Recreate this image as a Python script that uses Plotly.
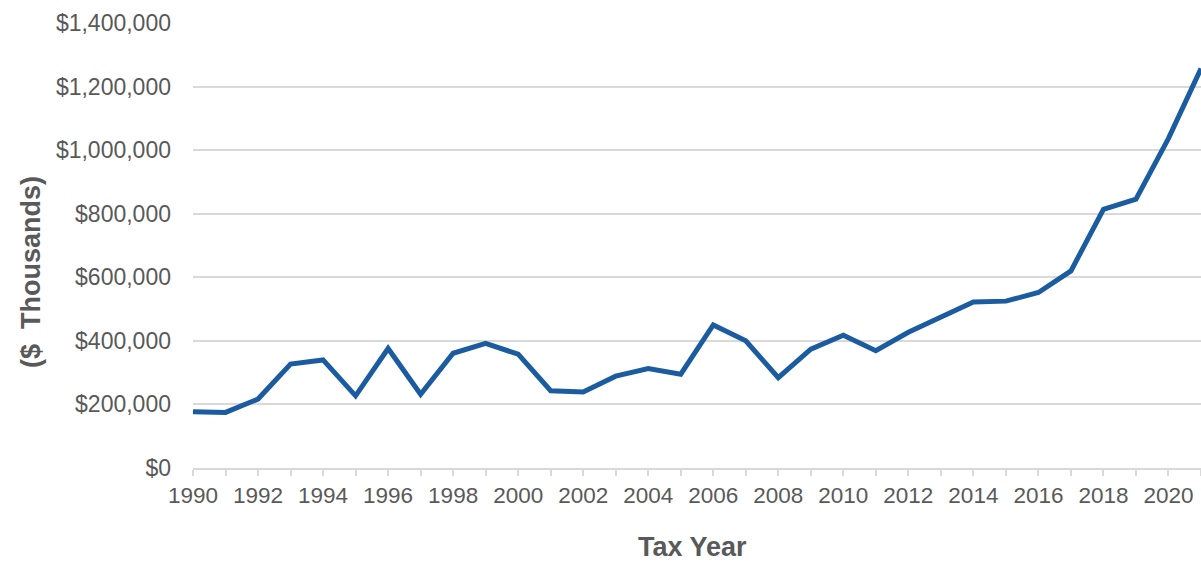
import plotly.graph_objects as go

years = list(range(1990, 2022))
values = [177000, 175000, 217000, 327000, 340000, 227000, 376000, 232000,
          361000, 392000, 358000, 243000, 239000, 289000, 313000, 295000,
          450000, 400000, 284000, 374000, 418000, 369000, 427000, 473000,
          522000, 525000, 552000, 620000, 814000, 846000, 1037000, 1257000]
y_ticks = [0, 200000, 400000, 600000, 800000, 1000000, 1200000, 1400000]
y_tick_labels = ["$0", "$200,000", "$400,000", "$600,000", "$800,000",
                 "$1,000,000", "$1,200,000", "$1,400,000"]
x_ticks = list(range(1990, 2022, 2))

FONT = "Liberation Sans, Arial, sans-serif"
GREY = "#595959"

fig = go.Figure()
fig.add_trace(go.Scatter(
    x=years, y=values, mode="lines",
    line=dict(color="#1B5CA0", width=5),
    hoverinfo="x+y", showlegend=False, cliponaxis=True,
))

fig.update_layout(
    width=1201, height=564,
    margin=dict(l=193, r=0, t=23, b=96),
    plot_bgcolor="white", paper_bgcolor="white",
    font=dict(family=FONT, color=GREY),
    xaxis=dict(
        range=[1990, 2021], tickvals=x_ticks, ticktext=[str(v) for v in x_ticks],
        showgrid=False, zeroline=False,
        showline=True, linecolor="#D9D9D9", linewidth=1.5,
        ticks="outside", ticklen=6, tickcolor="#D9D9D9", tickwidth=1.5,
        minor=dict(dtick=1, tick0=1990, ticks="outside", ticklen=6,
                   tickcolor="#D9D9D9", tickwidth=1.5, showgrid=False),
        tickfont=dict(family=FONT, size=22.5, color=GREY),
    ),
    yaxis=dict(
        range=[0, 1400000], tickvals=y_ticks, ticktext=y_tick_labels,
        showgrid=True, gridcolor="#D9D9D9", gridwidth=1.5,
        zeroline=False, showline=False, ticks="",
        ticklabelstandoff=21,
        tickfont=dict(family=FONT, size=23, color=GREY),
    ),
    annotations=[
        dict(text="<b>($\u00a0\u00a0Thousands)</b>", xref="paper", yref="paper",
             x=(31 - 193) / 1008, y=(468 - 272) / 445, textangle=-90,
             showarrow=False, font=dict(family=FONT, size=27, color=GREY),
             xanchor="center", yanchor="middle"),
        dict(text="<b>Tax Year</b>", xref="paper", yref="paper",
             x=(692 - 193) / 1008, y=(468 - 563) / 445,
             showarrow=False, font=dict(family=FONT, size=27, color=GREY),
             xanchor="center", yanchor="bottom", borderpad=0),
    ],
)

fig.write_html("out.html")
